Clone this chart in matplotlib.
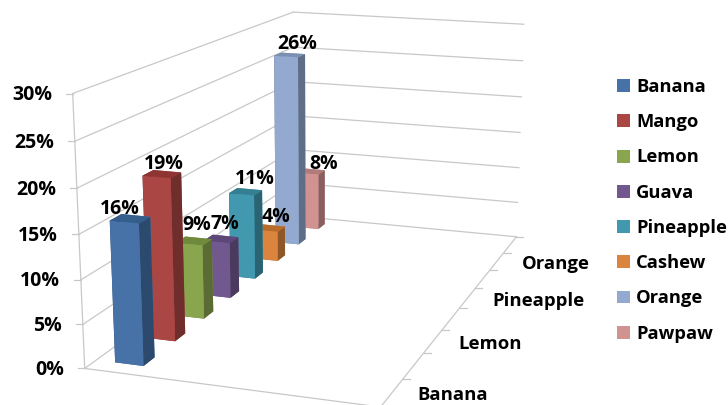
#!/usr/bin/python3
# coding: utf-8

# ---- Description ----
""" Fruit share chart, 3D columns on a hand fitted camera """

# ---- Imports ----
import numpy as np
import matplotlib
matplotlib.use('Agg')
import matplotlib.pyplot as plt
from matplotlib.lines import Line2D
from matplotlib.patches import Patch

# ---- Data ----
fruits = ['Banana', 'Mango', 'Lemon', 'Guava', 'Pineapple', 'Cashew', 'Orange', 'Pawpaw']
shares = [16, 19, 9, 7, 11, 4, 26, 8]
value_ticks = [0, 5, 10, 15, 20, 25, 30]
depth_labels = ['Banana', 'Lemon', 'Pineapple', 'Orange']
depth_label_pos = [0, 2, 4, 6]

front_colors = ['#4672A8', '#AA4643', '#89A54E', '#71588F', '#4198AF', '#DB843D', '#93A9CF', '#D19392']
side_colors = ['#2C4A6E', '#6F2E2C', '#5A6B33', '#4A3A5E', '#2A6473', '#8F5728', '#5F6E87', '#89605F']
top_colors = ['#345E8C', '#8E3533', '#6F8A3C', '#5D4778', '#357F93', '#B86C2B', '#7B8FB2', '#B07C7B']

# ---- Layout ----
WIDTH, HEIGHT = 728, 405
PT = 0.72  # points per pixel at 100 dpi
GRID = '#C8C8C8'
FONT = 'Open Sans'
BAR_X = (0.068, 0.170)
BAR_GAP = 0.33

# nudges of the column labels, in pixels
label_nudges = [(-10, 0), (2, 0), (3, 6), (4, 5), (9, 3), (7, 1), (8, 1), (13, -3)]

# box corners (x, y, z) and where they land on the canvas, in pixels
box_corners = [(0, 0, 0), (1, 0, 0), (0, 8, 0), (1, 8, 0), (0, 0, 30), (0, 8, 30), (1, 8, 30)]
canvas_corners = [(84, 368), (381, 407), (295, 216), (516, 237), (73, 94), (293, 12), (524, 24)]


def fit_camera(world, screen):
    """ DLT fit of the 3x4 camera, last row scaled so w = 1 at the first corner """
    rows = []
    for (x, y, z), (u, v) in zip(world, screen):
        rows.append([x, y, z, 1, 0, 0, 0, 0, -u * x, -u * y, -u * z, -u])
        rows.append([0, 0, 0, 0, x, y, z, 1, -v * x, -v * y, -v * z, -v])
    solution = np.linalg.svd(np.array(rows, dtype=float))[2][-1].reshape(3, 4)
    return solution / solution[2, 3]


camera = fit_camera(box_corners, canvas_corners)


def to_canvas(x, y, z):
    u, v, w = camera @ np.array([x, y, z, 1.0])
    return u / w, v / w


def get_proj():
    """ 4x4 matrix for mplot3d, third row gives a depth growing away from the camera """
    depth = camera[2] - np.array([0, 0, 0, 0.5])
    return np.vstack([camera[0], camera[1], depth, camera[2]])


# ---- Figure ----
fig = plt.figure(figsize=(WIDTH / 100, HEIGHT / 100), dpi=100)
# mplot3d forces a square axes, so it overflows the canvas vertically
side = WIDTH / HEIGHT
ax = fig.add_axes([0, (1 - side) / 2, 1, side], projection='3d')
ax.set_axis_off()
ax.computed_zorder = False
# ortho keeps Line3D from masking points outside the unit cube
ax.set_proj_type('ortho')
ax.get_proj = get_proj

# walls and floor
for value in value_ticks:
    ax.plot([0, 0], [0, 8], [value, value], color=GRID, lw=0.9, zorder=1)
    ax.plot([0, 1], [8, 8], [value, value], color=GRID, lw=0.9, zorder=1)
ax.plot([0, 0], [0, 0], [0, 30], color=GRID, lw=0.9, zorder=1)
ax.plot([0, 1], [0, 0], [0, 0], color=GRID, lw=0.9, zorder=1)
ax.plot([1, 1], [0, 8], [0, 0], color=GRID, lw=0.9, zorder=1)

# columns, back ones first
for i, share in enumerate(shares):
    colors = [top_colors[i], top_colors[i], front_colors[i], front_colors[i], side_colors[i], side_colors[i]]
    ax.bar3d([BAR_X[0]], [i + BAR_GAP], [0], [BAR_X[1] - BAR_X[0]], [1 - 2 * BAR_GAP], [share],
             color=colors, shade=False, zorder=20 - i, linewidth=0)

# value axis
for value in value_ticks:
    u, v = to_canvas(0, 0, value)
    ax.add_artist(Line2D([u - 7, u], [v, v], color=GRID, lw=0.9))
    ax.annotate('%d%%' % value, xy=(u, v), xytext=(-15, -1), textcoords='offset points',
                ha='right', va='center', family=FONT, fontsize=14, fontweight='bold')

# depth axis
for i in range(1, 9):
    u, v = to_canvas(1, i, 0)
    ax.add_artist(Line2D([u, u + 7], [v, v], color=GRID, lw=0.9))
for label, pos in zip(depth_labels, depth_label_pos):
    u, v = to_canvas(1, pos + 0.5, 0)
    ax.annotate(label, xy=(u, v), xytext=(18, -2), textcoords='offset points',
                ha='left', va='center', family=FONT, fontsize=13.3, fontweight='bold')

# column labels
for i, share in enumerate(shares):
    u, v = to_canvas(sum(BAR_X) / 2, i + 0.5, share)
    nudge = label_nudges[i]
    ax.annotate('%d%%' % share, xy=(u, v), xytext=(nudge[0] * PT, nudge[1] * PT), textcoords='offset points',
                ha='center', va='bottom', family=FONT, fontsize=14, fontweight='bold', zorder=30)

handles = [Patch(facecolor=color) for color in front_colors]
fig.legend(handles, fruits, loc='upper left', bbox_to_anchor=(617 / WIDTH, 1 - 78 / HEIGHT),
           frameon=False, borderpad=0, borderaxespad=0, handlelength=0.71, handleheight=0.71,
           handletextpad=0.34, labelspacing=0.94, prop={'family': FONT, 'size': 13.2, 'weight': 'bold'})

# 2D view limits in canvas pixels, y pointing down
margin = (WIDTH - HEIGHT) / 2
ax.viewLim.intervalx = (0, WIDTH)
ax.viewLim.intervaly = (HEIGHT + margin, -margin)

fig.savefig('out.png', dpi=100)
